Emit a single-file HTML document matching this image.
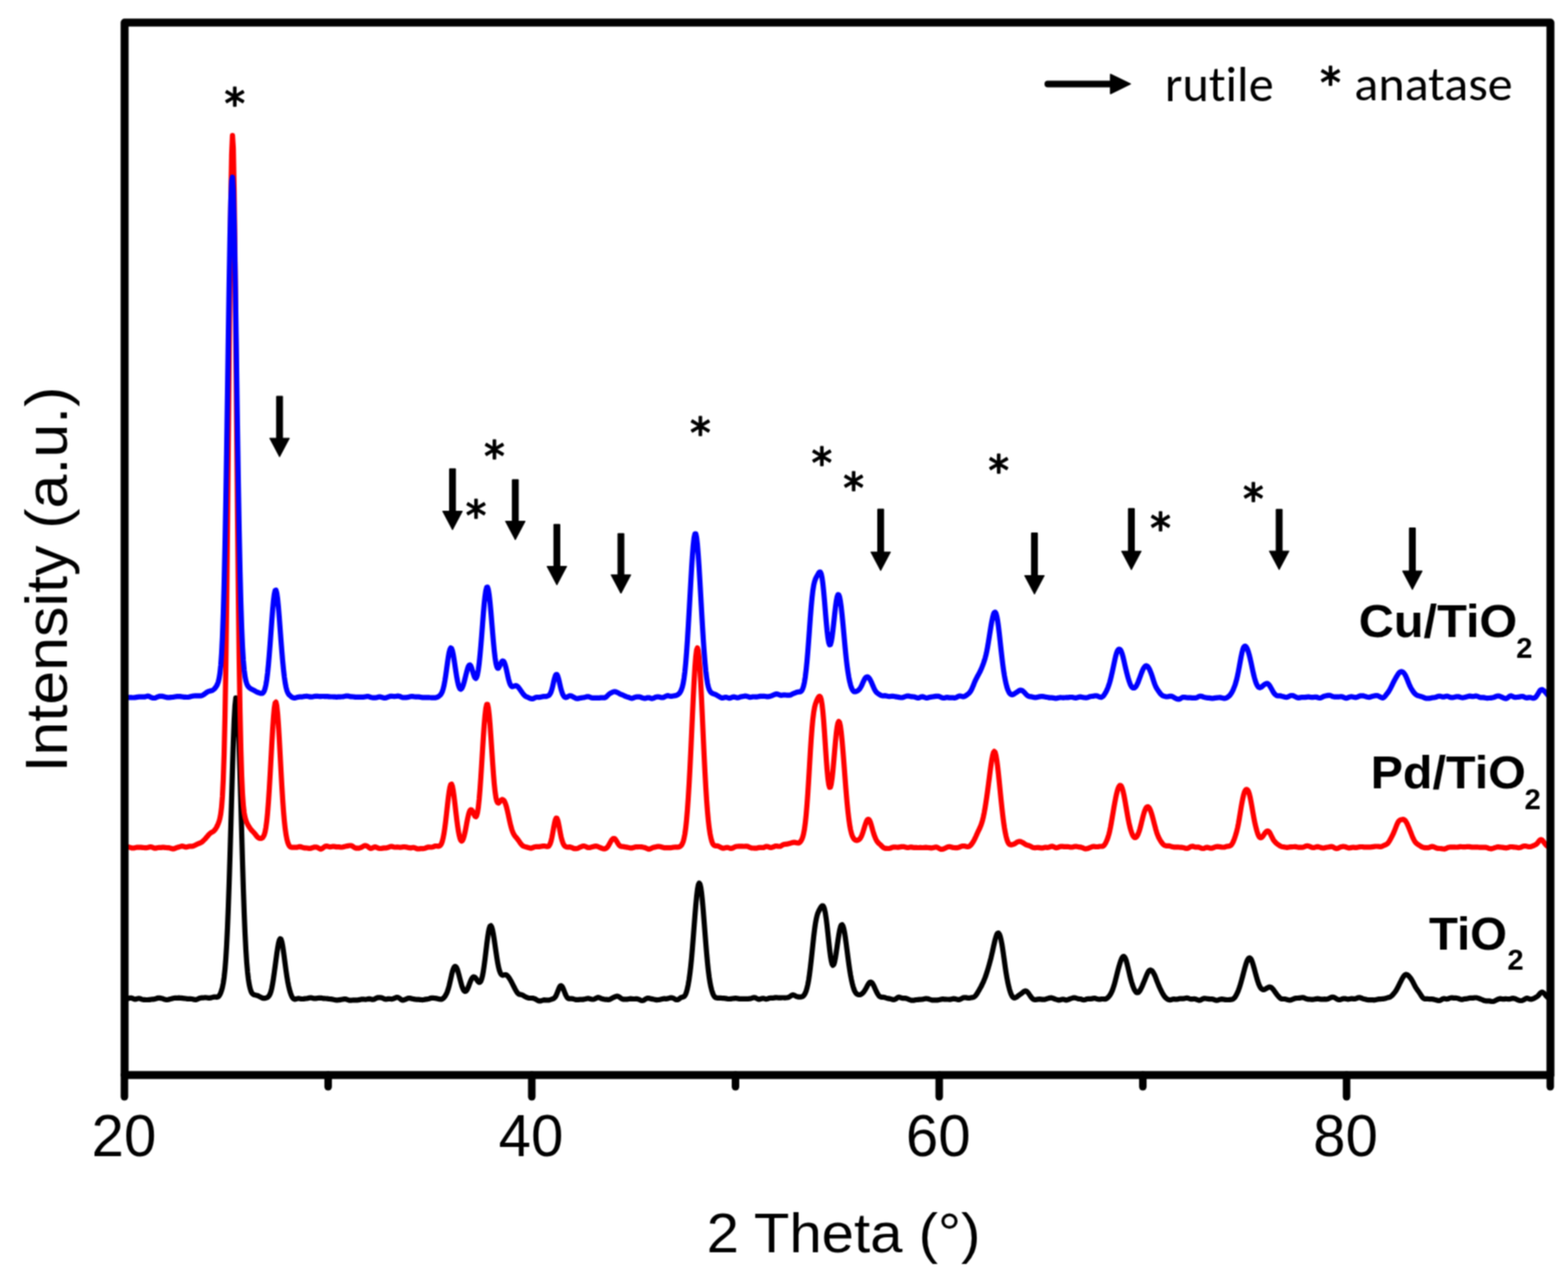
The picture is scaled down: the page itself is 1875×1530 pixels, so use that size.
<!DOCTYPE html>
<html><head><meta charset="utf-8"><title>XRD patterns</title>
<style>
html,body{margin:0;padding:0;background:#fff;}
svg{display:block;}
#w{width:1875px;height:1530px;}
.ar{font-family:"Liberation Sans",Arial,sans-serif;fill:#000;}
.b{font-weight:bold;}
.dv{font-family:"DejaVu Sans",sans-serif;fill:#000;stroke:#000;stroke-width:1.6px;stroke-linejoin:round;stroke-linecap:round;}
.cb{font-family:Carlito,"Liberation Sans",sans-serif;fill:#000;font-variant-ligatures:none;}
</style></head>
<body>
<div id="w"><svg width="1875" height="1530" viewBox="0 0 1875 1530">
<defs><filter id="soft" x="0" y="0" width="1875" height="1530" filterUnits="userSpaceOnUse" color-interpolation-filters="sRGB"><feConvolveMatrix order="3" kernelMatrix="1 2 1 2 4 2 1 2 1" divisor="16" edgeMode="duplicate"/></filter></defs>
<g filter="url(#soft)">
<rect width="1875" height="1530" fill="#fff"/>
<polyline points="152,1194.8 153,1194.5 154,1194.2 155,1193.9 156,1193.8 157,1193.8 158,1194.1 159,1194.5 160,1195.0 161,1195.3 162,1195.3 163,1195.1 164,1194.7 165,1194.5 166,1194.4 167,1194.5 168,1194.8 169,1195.2 170,1195.5 171,1195.7 172,1195.9 173,1195.9 174,1196.0 175,1196.0 176,1196.0 177,1196.0 178,1195.9 179,1195.8 180,1195.7 181,1195.5 182,1195.4 183,1195.3 184,1195.3 185,1195.1 186,1194.8 187,1194.5 188,1194.1 189,1193.9 190,1193.8 191,1193.9 192,1194.1 193,1194.3 194,1194.5 195,1194.8 196,1195.2 197,1195.5 198,1195.8 199,1196.0 200,1196.0 201,1195.8 202,1195.6 203,1195.3 204,1195.0 205,1194.8 206,1194.5 207,1194.2 208,1194.0 209,1193.9 210,1193.8 211,1193.8 212,1193.8 213,1193.8 214,1193.7 215,1193.8 216,1193.8 217,1193.9 218,1194.1 219,1194.2 220,1194.3 221,1194.4 222,1194.5 223,1194.7 224,1194.8 225,1194.9 226,1194.9 227,1194.9 228,1194.9 229,1195.0 230,1195.1 231,1195.4 232,1195.6 233,1195.9 234,1195.9 235,1195.7 236,1195.3 237,1194.8 238,1194.4 239,1194.0 240,1193.8 241,1193.7 242,1193.6 243,1193.6 244,1193.5 245,1193.4 246,1193.4 247,1193.5 248,1193.6 249,1193.8 250,1193.9 251,1193.9 252,1193.6 253,1193.4 254,1193.1 255,1192.8 256,1192.7 257,1192.6 258,1192.7 259,1192.8 260,1192.7 261,1192.3 262,1191.3 263,1189.7 264,1187.5 265,1184.6 266,1181.0 267,1176.0 268,1169.2 269,1159.9 270,1147.3 271,1131.0 272,1110.5 273,1085.8 274,1057.0 275,1024.7 276,989.8 277,954.0 278,919.3 279,888.0 280,862.2 281,844.0 282,834.9 283,835.6 284,846.3 285,866.0 286,893.0 287,925.3 288,960.6 289,996.5 290,1031.4 291,1063.5 292,1092.0 293,1116.2 294,1135.8 295,1151.1 296,1162.6 297,1171.2 298,1177.5 299,1182.1 300,1185.4 301,1187.6 302,1188.9 303,1189.7 304,1190.0 305,1190.3 306,1190.5 307,1190.7 308,1191.0 309,1191.4 310,1191.9 311,1192.4 312,1192.9 313,1193.4 314,1193.9 315,1194.1 316,1194.2 317,1194.1 318,1193.8 319,1193.5 320,1193.0 321,1192.2 322,1190.9 323,1188.9 324,1186.0 325,1181.9 326,1176.7 327,1170.5 328,1163.4 329,1156.0 330,1148.3 331,1140.9 332,1134.2 333,1128.6 334,1124.7 335,1122.9 336,1123.5 337,1126.4 338,1131.5 339,1138.1 340,1145.6 341,1153.4 342,1160.9 343,1167.8 344,1173.8 345,1178.9 346,1183.2 347,1186.8 348,1189.8 349,1192.1 350,1193.8 351,1194.8 352,1195.3 353,1195.3 354,1195.0 355,1194.7 356,1194.5 357,1194.4 358,1194.5 359,1194.7 360,1194.9 361,1195.0 362,1195.0 363,1194.9 364,1194.7 365,1194.6 366,1194.5 367,1194.4 368,1194.2 369,1193.9 370,1193.7 371,1193.5 372,1193.6 373,1193.8 374,1194.1 375,1194.3 376,1194.4 377,1194.4 378,1194.3 379,1194.2 380,1194.0 381,1193.9 382,1193.8 383,1193.8 384,1193.8 385,1194.0 386,1194.2 387,1194.4 388,1194.4 389,1194.5 390,1194.5 391,1194.6 392,1194.7 393,1194.9 394,1195.0 395,1195.1 396,1195.2 397,1195.3 398,1195.5 399,1195.8 400,1196.0 401,1196.2 402,1196.3 403,1196.3 404,1196.3 405,1196.2 406,1196.1 407,1195.9 408,1195.7 409,1195.5 410,1195.4 411,1195.2 412,1195.1 413,1195.1 414,1195.3 415,1195.7 416,1196.1 417,1196.4 418,1196.6 419,1196.6 420,1196.6 421,1196.5 422,1196.4 423,1196.4 424,1196.4 425,1196.4 426,1196.4 427,1196.3 428,1196.3 429,1196.1 430,1195.9 431,1195.7 432,1195.4 433,1195.3 434,1195.3 435,1195.4 436,1195.5 437,1195.6 438,1195.5 439,1195.3 440,1195.1 441,1194.9 442,1194.9 443,1195.1 444,1195.4 445,1195.6 446,1195.7 447,1195.5 448,1195.1 449,1194.5 450,1194.0 451,1193.6 452,1193.4 453,1193.3 454,1193.3 455,1193.4 456,1193.5 457,1193.8 458,1194.2 459,1194.7 460,1195.1 461,1195.3 462,1195.3 463,1195.1 464,1194.9 465,1194.8 466,1194.9 467,1195.0 468,1195.1 469,1195.1 470,1194.8 471,1194.5 472,1194.0 473,1193.6 474,1193.2 475,1193.1 476,1193.3 477,1193.8 478,1194.4 479,1195.2 480,1195.9 481,1196.3 482,1196.4 483,1196.2 484,1195.8 485,1195.4 486,1194.9 487,1194.4 488,1194.1 489,1194.0 490,1194.1 491,1194.3 492,1194.6 493,1194.8 494,1195.0 495,1195.2 496,1195.3 497,1195.5 498,1195.6 499,1195.7 500,1195.7 501,1195.7 502,1195.8 503,1195.9 504,1196.0 505,1196.1 506,1196.0 507,1195.9 508,1195.6 509,1195.4 510,1195.3 511,1195.2 512,1195.0 513,1194.8 514,1194.4 515,1194.0 516,1193.8 517,1193.8 518,1193.8 519,1194.0 520,1194.1 521,1194.2 522,1194.4 523,1194.6 524,1194.9 525,1195.1 526,1195.3 527,1195.4 528,1195.3 529,1194.9 530,1194.2 531,1193.2 532,1192.0 533,1190.4 534,1188.5 535,1186.1 536,1183.1 537,1179.5 538,1175.3 539,1170.8 540,1166.3 541,1162.3 542,1159.2 543,1157.0 544,1156.1 545,1156.3 546,1157.6 547,1160.0 548,1163.3 549,1167.0 550,1171.0 551,1174.8 552,1178.4 553,1181.4 554,1183.8 555,1185.3 556,1186.0 557,1185.8 558,1184.8 559,1183.1 560,1180.8 561,1178.1 562,1175.4 563,1172.9 564,1170.9 565,1169.5 566,1168.7 567,1168.6 568,1169.2 569,1170.3 570,1171.8 571,1173.3 572,1174.5 573,1175.2 574,1175.0 575,1173.6 576,1171.0 577,1167.1 578,1161.6 579,1154.9 580,1147.1 581,1138.7 582,1130.2 583,1122.3 584,1115.6 585,1110.7 586,1107.9 587,1107.3 588,1109.0 589,1112.6 590,1117.8 591,1124.1 592,1131.0 593,1138.0 594,1144.8 595,1150.9 596,1156.1 597,1160.2 598,1163.1 599,1165.1 600,1166.2 601,1166.6 602,1166.5 603,1166.3 604,1166.0 605,1166.1 606,1166.6 607,1167.5 608,1168.7 609,1170.1 610,1171.8 611,1173.5 612,1175.4 613,1177.4 614,1179.4 615,1181.3 616,1183.2 617,1185.0 618,1186.7 619,1188.0 620,1188.9 621,1189.4 622,1189.6 623,1189.8 624,1190.1 625,1190.6 626,1191.1 627,1191.7 628,1192.2 629,1192.7 630,1193.2 631,1193.6 632,1193.9 633,1194.0 634,1194.0 635,1194.0 636,1194.0 637,1194.1 638,1194.3 639,1194.6 640,1195.0 641,1195.6 642,1196.2 643,1196.7 644,1197.2 645,1197.4 646,1197.4 647,1197.2 648,1196.9 649,1196.6 650,1196.3 651,1196.2 652,1196.3 653,1196.4 654,1196.4 655,1196.5 656,1196.4 657,1196.2 658,1195.9 659,1195.6 660,1195.2 661,1194.9 662,1194.4 663,1193.7 664,1192.6 665,1190.9 666,1188.6 667,1185.9 668,1183.3 669,1181.0 670,1179.5 671,1179.1 672,1179.9 673,1181.6 674,1183.9 675,1186.5 676,1189.1 677,1191.3 678,1193.0 679,1194.0 680,1194.6 681,1194.7 682,1194.7 683,1194.6 684,1194.7 685,1194.8 686,1195.1 687,1195.4 688,1195.7 689,1195.9 690,1195.9 691,1195.9 692,1195.8 693,1195.7 694,1195.7 695,1195.6 696,1195.6 697,1195.6 698,1195.4 699,1195.2 700,1195.0 701,1194.7 702,1194.5 703,1194.4 704,1194.4 705,1194.7 706,1195.0 707,1195.3 708,1195.5 709,1195.5 710,1195.4 711,1195.1 712,1194.6 713,1194.0 714,1193.5 715,1193.2 716,1193.3 717,1193.6 718,1194.1 719,1194.5 720,1194.8 721,1195.1 722,1195.3 723,1195.5 724,1195.6 725,1195.6 726,1195.7 727,1195.8 728,1195.8 729,1195.6 730,1195.2 731,1194.6 732,1194.0 733,1193.5 734,1193.0 735,1192.6 736,1192.2 737,1191.8 738,1191.7 739,1191.9 740,1192.3 741,1193.0 742,1193.8 743,1194.5 744,1195.0 745,1195.3 746,1195.4 747,1195.4 748,1195.4 749,1195.4 750,1195.3 751,1195.2 752,1195.0 753,1194.8 754,1194.7 755,1194.8 756,1194.9 757,1195.0 758,1195.0 759,1195.0 760,1194.9 761,1194.8 762,1194.9 763,1195.2 764,1195.6 765,1196.1 766,1196.6 767,1196.9 768,1197.0 769,1196.8 770,1196.4 771,1195.7 772,1195.1 773,1194.6 774,1194.2 775,1194.1 776,1194.2 777,1194.4 778,1194.7 779,1194.9 780,1195.1 781,1195.3 782,1195.5 783,1195.7 784,1195.9 785,1196.1 786,1196.1 787,1196.0 788,1195.9 789,1195.7 790,1195.5 791,1195.2 792,1195.0 793,1194.8 794,1194.7 795,1194.7 796,1194.8 797,1194.8 798,1194.6 799,1194.4 800,1194.1 801,1193.8 802,1193.6 803,1193.6 804,1193.8 805,1194.1 806,1194.6 807,1195.2 808,1195.7 809,1196.0 810,1196.0 811,1195.6 812,1195.0 813,1194.2 814,1193.5 815,1193.1 816,1192.8 817,1192.6 818,1192.1 819,1191.0 820,1189.1 821,1186.3 822,1182.5 823,1177.6 824,1171.7 825,1164.4 826,1155.8 827,1145.7 828,1134.1 829,1121.5 830,1108.4 831,1095.4 832,1083.3 833,1072.7 834,1064.4 835,1058.8 836,1056.4 837,1057.5 838,1061.7 839,1068.9 840,1078.5 841,1090.0 842,1102.7 843,1115.7 844,1128.5 845,1140.6 846,1151.4 847,1160.8 848,1168.7 849,1175.2 850,1180.3 851,1184.3 852,1187.5 853,1190.0 854,1191.7 855,1192.9 856,1193.5 857,1193.7 858,1193.8 859,1193.8 860,1193.8 861,1193.8 862,1193.9 863,1194.0 864,1194.1 865,1194.2 866,1194.2 867,1194.3 868,1194.4 869,1194.6 870,1194.9 871,1195.0 872,1195.0 873,1194.9 874,1194.8 875,1194.7 876,1194.5 877,1194.4 878,1194.3 879,1194.2 880,1194.2 881,1194.3 882,1194.4 883,1194.7 884,1194.8 885,1194.9 886,1194.8 887,1194.8 888,1194.8 889,1194.8 890,1194.9 891,1194.9 892,1194.9 893,1194.9 894,1194.8 895,1194.8 896,1194.7 897,1194.6 898,1194.4 899,1194.1 900,1193.7 901,1193.4 902,1193.3 903,1193.5 904,1193.9 905,1194.4 906,1194.9 907,1195.3 908,1195.3 909,1195.2 910,1194.8 911,1194.5 912,1194.3 913,1194.3 914,1194.6 915,1194.9 916,1195.1 917,1195.1 918,1194.8 919,1194.4 920,1194.0 921,1193.9 922,1193.8 923,1193.9 924,1193.9 925,1193.8 926,1193.6 927,1193.4 928,1193.3 929,1193.4 930,1193.5 931,1193.7 932,1193.7 933,1193.7 934,1193.6 935,1193.5 936,1193.5 937,1193.5 938,1193.6 939,1193.6 940,1193.5 941,1193.5 942,1193.3 943,1192.9 944,1192.4 945,1191.8 946,1191.1 947,1190.5 948,1190.2 949,1190.3 950,1190.7 951,1191.2 952,1191.8 953,1192.2 954,1192.4 955,1192.6 956,1192.6 957,1192.6 958,1192.6 959,1192.3 960,1191.9 961,1191.0 962,1189.7 963,1187.8 964,1185.3 965,1181.9 966,1177.6 967,1172.2 968,1165.5 969,1157.7 970,1148.9 971,1139.5 972,1130.0 973,1120.7 974,1112.4 975,1105.3 976,1099.7 977,1095.4 978,1092.3 979,1090.0 980,1088.0 981,1086.2 982,1084.6 983,1083.6 984,1083.5 985,1084.8 986,1087.8 987,1092.6 988,1099.2 989,1107.4 990,1116.6 991,1126.2 992,1135.3 993,1143.2 994,1149.3 995,1153.2 996,1154.7 997,1153.8 998,1150.7 999,1145.7 1000,1139.3 1001,1132.3 1002,1125.2 1003,1118.6 1004,1113.0 1005,1108.9 1006,1106.6 1007,1106.2 1008,1107.7 1009,1111.1 1010,1116.1 1011,1122.5 1012,1129.8 1013,1137.6 1014,1145.5 1015,1153.0 1016,1159.9 1017,1166.0 1018,1171.3 1019,1175.9 1020,1179.8 1021,1183.0 1022,1185.5 1023,1187.3 1024,1188.5 1025,1189.3 1026,1189.8 1027,1190.0 1028,1190.0 1029,1189.7 1030,1189.2 1031,1188.5 1032,1187.6 1033,1186.4 1034,1184.9 1035,1183.3 1036,1181.5 1037,1179.6 1038,1177.8 1039,1176.2 1040,1175.2 1041,1174.8 1042,1175.1 1043,1176.0 1044,1177.6 1045,1179.5 1046,1181.7 1047,1184.0 1048,1186.1 1049,1188.1 1050,1189.8 1051,1191.2 1052,1192.1 1053,1192.6 1054,1192.8 1055,1192.9 1056,1192.9 1057,1193.0 1058,1193.2 1059,1193.6 1060,1193.9 1061,1194.2 1062,1194.4 1063,1194.6 1064,1194.7 1065,1195.0 1066,1195.2 1067,1195.6 1068,1195.8 1069,1195.8 1070,1195.6 1071,1195.1 1072,1194.4 1073,1193.6 1074,1193.1 1075,1192.9 1076,1193.1 1077,1193.4 1078,1193.8 1079,1194.1 1080,1194.1 1081,1194.1 1082,1194.1 1083,1194.2 1084,1194.5 1085,1194.8 1086,1195.2 1087,1195.7 1088,1196.1 1089,1196.4 1090,1196.6 1091,1196.7 1092,1196.7 1093,1196.6 1094,1196.3 1095,1196.1 1096,1196.0 1097,1195.9 1098,1195.8 1099,1195.7 1100,1195.6 1101,1195.6 1102,1195.5 1103,1195.4 1104,1195.2 1105,1195.0 1106,1194.8 1107,1194.6 1108,1194.5 1109,1194.7 1110,1194.9 1111,1195.3 1112,1195.6 1113,1195.9 1114,1196.2 1115,1196.4 1116,1196.4 1117,1196.4 1118,1196.4 1119,1196.4 1120,1196.4 1121,1196.3 1122,1196.2 1123,1196.0 1124,1195.8 1125,1195.5 1126,1195.3 1127,1195.2 1128,1195.2 1129,1195.3 1130,1195.4 1131,1195.4 1132,1195.5 1133,1195.5 1134,1195.5 1135,1195.6 1136,1195.6 1137,1195.4 1138,1195.2 1139,1194.9 1140,1194.7 1141,1194.7 1142,1194.9 1143,1195.1 1144,1195.4 1145,1195.7 1146,1195.8 1147,1195.8 1148,1195.5 1149,1195.0 1150,1194.4 1151,1193.9 1152,1193.5 1153,1193.3 1154,1193.3 1155,1193.4 1156,1193.6 1157,1193.8 1158,1193.9 1159,1193.9 1160,1193.7 1161,1193.5 1162,1193.3 1163,1193.2 1164,1192.9 1165,1192.4 1166,1191.6 1167,1190.5 1168,1189.1 1169,1187.5 1170,1185.8 1171,1184.1 1172,1182.3 1173,1180.5 1174,1178.5 1175,1176.4 1176,1174.3 1177,1171.9 1178,1169.4 1179,1166.6 1180,1163.6 1181,1160.4 1182,1157.0 1183,1153.5 1184,1149.8 1185,1145.9 1186,1141.6 1187,1137.2 1188,1132.6 1189,1128.2 1190,1124.0 1191,1120.5 1192,1117.8 1193,1116.3 1194,1116.2 1195,1117.4 1196,1120.1 1197,1124.0 1198,1129.1 1199,1135.2 1200,1142.1 1201,1149.3 1202,1156.5 1203,1163.2 1204,1169.2 1205,1174.5 1206,1179.1 1207,1183.1 1208,1186.4 1209,1189.1 1210,1191.2 1211,1192.7 1212,1193.5 1213,1193.8 1214,1193.6 1215,1193.1 1216,1192.5 1217,1191.7 1218,1190.9 1219,1190.2 1220,1189.4 1221,1188.8 1222,1188.0 1223,1187.3 1224,1186.4 1225,1185.7 1226,1185.4 1227,1185.5 1228,1186.1 1229,1187.1 1230,1188.4 1231,1189.9 1232,1191.4 1233,1192.8 1234,1194.0 1235,1194.9 1236,1195.5 1237,1195.8 1238,1195.9 1239,1195.8 1240,1195.6 1241,1195.4 1242,1195.3 1243,1195.2 1244,1195.3 1245,1195.4 1246,1195.6 1247,1195.7 1248,1195.7 1249,1195.6 1250,1195.4 1251,1195.1 1252,1194.7 1253,1194.4 1254,1194.1 1255,1193.9 1256,1193.7 1257,1193.7 1258,1193.8 1259,1194.1 1260,1194.5 1261,1194.9 1262,1195.3 1263,1195.6 1264,1195.9 1265,1196.2 1266,1196.3 1267,1196.3 1268,1196.1 1269,1195.8 1270,1195.5 1271,1195.4 1272,1195.5 1273,1195.8 1274,1196.2 1275,1196.3 1276,1196.2 1277,1195.9 1278,1195.5 1279,1195.1 1280,1194.7 1281,1194.4 1282,1194.1 1283,1193.8 1284,1193.6 1285,1193.6 1286,1193.8 1287,1194.1 1288,1194.4 1289,1194.7 1290,1194.9 1291,1195.0 1292,1195.1 1293,1195.3 1294,1195.7 1295,1196.0 1296,1196.1 1297,1196.0 1298,1195.7 1299,1195.3 1300,1195.0 1301,1194.9 1302,1194.9 1303,1194.9 1304,1194.9 1305,1194.8 1306,1194.6 1307,1194.4 1308,1194.2 1309,1194.2 1310,1194.3 1311,1194.7 1312,1195.0 1313,1195.3 1314,1195.5 1315,1195.4 1316,1195.3 1317,1195.1 1318,1195.0 1319,1195.0 1320,1195.1 1321,1195.2 1322,1195.1 1323,1194.7 1324,1194.0 1325,1193.1 1326,1192.0 1327,1190.8 1328,1189.2 1329,1187.3 1330,1185.1 1331,1182.4 1332,1179.3 1333,1175.8 1334,1172.0 1335,1168.0 1336,1164.0 1337,1160.1 1338,1156.4 1339,1153.0 1340,1149.9 1341,1147.3 1342,1145.4 1343,1144.3 1344,1144.1 1345,1145.1 1346,1147.1 1347,1150.1 1348,1153.9 1349,1158.1 1350,1162.4 1351,1166.7 1352,1170.7 1353,1174.4 1354,1177.6 1355,1180.4 1356,1182.8 1357,1184.8 1358,1186.2 1359,1187.2 1360,1187.5 1361,1187.3 1362,1186.5 1363,1185.1 1364,1183.4 1365,1181.4 1366,1179.2 1367,1176.8 1368,1174.4 1369,1172.0 1370,1169.4 1371,1166.9 1372,1164.6 1373,1162.6 1374,1161.2 1375,1160.5 1376,1160.4 1377,1160.9 1378,1161.8 1379,1163.2 1380,1165.1 1381,1167.2 1382,1169.7 1383,1172.3 1384,1174.8 1385,1177.3 1386,1179.7 1387,1182.0 1388,1184.1 1389,1186.1 1390,1188.0 1391,1189.8 1392,1191.3 1393,1192.6 1394,1193.7 1395,1194.5 1396,1195.2 1397,1195.7 1398,1196.0 1399,1196.2 1400,1196.0 1401,1195.7 1402,1195.4 1403,1195.2 1404,1195.2 1405,1195.3 1406,1195.4 1407,1195.4 1408,1195.3 1409,1195.1 1410,1194.8 1411,1194.6 1412,1194.5 1413,1194.6 1414,1194.6 1415,1194.6 1416,1194.5 1417,1194.2 1418,1194.0 1419,1193.9 1420,1193.9 1421,1194.2 1422,1194.6 1423,1194.9 1424,1195.2 1425,1195.2 1426,1195.1 1427,1195.0 1428,1194.9 1429,1195.0 1430,1195.3 1431,1195.7 1432,1196.1 1433,1196.4 1434,1196.6 1435,1196.5 1436,1196.1 1437,1195.5 1438,1195.0 1439,1194.6 1440,1194.4 1441,1194.4 1442,1194.5 1443,1194.7 1444,1194.8 1445,1194.9 1446,1195.1 1447,1195.1 1448,1195.1 1449,1195.2 1450,1195.2 1451,1195.5 1452,1195.9 1453,1196.3 1454,1196.6 1455,1196.7 1456,1196.5 1457,1196.2 1458,1195.8 1459,1195.5 1460,1195.3 1461,1195.2 1462,1195.3 1463,1195.4 1464,1195.7 1465,1195.8 1466,1195.9 1467,1196.0 1468,1196.0 1469,1196.0 1470,1195.9 1471,1195.8 1472,1195.7 1473,1195.6 1474,1195.3 1475,1194.7 1476,1193.8 1477,1192.5 1478,1190.9 1479,1189.0 1480,1186.8 1481,1184.3 1482,1181.5 1483,1178.4 1484,1175.0 1485,1171.3 1486,1167.6 1487,1163.8 1488,1160.0 1489,1156.3 1490,1153.0 1491,1150.1 1492,1147.9 1493,1146.4 1494,1145.8 1495,1146.1 1496,1147.4 1497,1149.6 1498,1152.5 1499,1155.8 1500,1159.4 1501,1163.2 1502,1166.9 1503,1170.5 1504,1173.8 1505,1176.7 1506,1179.1 1507,1181.0 1508,1182.4 1509,1183.3 1510,1183.8 1511,1183.9 1512,1183.7 1513,1183.2 1514,1182.6 1515,1182.0 1516,1181.4 1517,1180.9 1518,1180.7 1519,1180.8 1520,1181.2 1521,1182.0 1522,1183.1 1523,1184.3 1524,1185.7 1525,1187.1 1526,1188.5 1527,1189.8 1528,1191.1 1529,1192.3 1530,1193.3 1531,1194.2 1532,1194.7 1533,1195.0 1534,1195.0 1535,1195.0 1536,1195.0 1537,1195.1 1538,1195.4 1539,1195.7 1540,1196.0 1541,1196.2 1542,1196.4 1543,1196.3 1544,1196.1 1545,1195.7 1546,1195.3 1547,1194.9 1548,1194.5 1549,1194.2 1550,1194.1 1551,1194.0 1552,1194.0 1553,1193.9 1554,1193.8 1555,1193.7 1556,1193.5 1557,1193.4 1558,1193.3 1559,1193.5 1560,1193.9 1561,1194.4 1562,1194.8 1563,1195.1 1564,1195.3 1565,1195.4 1566,1195.4 1567,1195.5 1568,1195.6 1569,1195.6 1570,1195.6 1571,1195.5 1572,1195.3 1573,1195.1 1574,1194.9 1575,1194.7 1576,1194.7 1577,1194.9 1578,1195.1 1579,1195.3 1580,1195.4 1581,1195.4 1582,1195.3 1583,1195.3 1584,1195.2 1585,1195.3 1586,1195.3 1587,1195.2 1588,1195.0 1589,1194.5 1590,1194.0 1591,1193.5 1592,1193.1 1593,1192.9 1594,1192.8 1595,1193.0 1596,1193.5 1597,1194.1 1598,1194.7 1599,1195.3 1600,1195.7 1601,1195.9 1602,1195.9 1603,1195.7 1604,1195.4 1605,1195.0 1606,1194.7 1607,1194.6 1608,1194.6 1609,1194.7 1610,1195.0 1611,1195.2 1612,1195.3 1613,1195.2 1614,1195.0 1615,1194.8 1616,1194.7 1617,1194.7 1618,1194.8 1619,1194.9 1620,1194.9 1621,1194.7 1622,1194.3 1623,1193.9 1624,1193.5 1625,1193.3 1626,1193.3 1627,1193.6 1628,1194.0 1629,1194.4 1630,1194.7 1631,1195.0 1632,1195.2 1633,1195.4 1634,1195.7 1635,1196.0 1636,1196.1 1637,1196.2 1638,1196.2 1639,1196.2 1640,1196.1 1641,1196.2 1642,1196.2 1643,1196.3 1644,1196.2 1645,1196.0 1646,1195.7 1647,1195.5 1648,1195.3 1649,1195.2 1650,1195.2 1651,1195.1 1652,1195.0 1653,1194.9 1654,1194.8 1655,1194.7 1656,1194.5 1657,1194.2 1658,1193.9 1659,1193.6 1660,1193.3 1661,1193.1 1662,1192.8 1663,1192.2 1664,1191.4 1665,1190.5 1666,1189.3 1667,1188.2 1668,1186.9 1669,1185.5 1670,1183.9 1671,1182.1 1672,1180.1 1673,1178.1 1674,1176.0 1675,1174.1 1676,1172.1 1677,1170.3 1678,1168.6 1679,1167.2 1680,1166.2 1681,1165.7 1682,1165.8 1683,1166.2 1684,1167.0 1685,1168.0 1686,1169.2 1687,1170.5 1688,1172.0 1689,1173.7 1690,1175.7 1691,1177.7 1692,1179.6 1693,1181.4 1694,1182.9 1695,1184.3 1696,1185.6 1697,1187.1 1698,1188.6 1699,1190.2 1700,1191.7 1701,1193.1 1702,1194.1 1703,1194.7 1704,1194.9 1705,1194.9 1706,1194.9 1707,1194.9 1708,1195.0 1709,1195.1 1710,1195.2 1711,1195.1 1712,1195.1 1713,1195.2 1714,1195.4 1715,1195.6 1716,1195.9 1717,1196.2 1718,1196.4 1719,1196.7 1720,1196.9 1721,1197.0 1722,1196.8 1723,1196.3 1724,1195.6 1725,1195.0 1726,1194.7 1727,1194.6 1728,1194.8 1729,1195.0 1730,1195.1 1731,1195.0 1732,1194.7 1733,1194.2 1734,1193.9 1735,1193.6 1736,1193.6 1737,1193.7 1738,1193.8 1739,1193.8 1740,1193.9 1741,1193.9 1742,1194.0 1743,1194.2 1744,1194.5 1745,1194.9 1746,1195.3 1747,1195.6 1748,1195.7 1749,1195.6 1750,1195.3 1751,1195.0 1752,1194.8 1753,1194.8 1754,1194.7 1755,1194.5 1756,1194.2 1757,1194.0 1758,1193.8 1759,1193.8 1760,1193.9 1761,1193.9 1762,1193.8 1763,1193.6 1764,1193.5 1765,1193.5 1766,1193.6 1767,1193.9 1768,1194.2 1769,1194.6 1770,1195.0 1771,1195.4 1772,1195.7 1773,1196.2 1774,1196.6 1775,1197.0 1776,1197.2 1777,1197.3 1778,1197.3 1779,1197.3 1780,1197.3 1781,1197.4 1782,1197.6 1783,1197.9 1784,1198.0 1785,1198.0 1786,1197.9 1787,1197.6 1788,1197.1 1789,1196.6 1790,1196.1 1791,1195.5 1792,1195.1 1793,1194.8 1794,1194.7 1795,1194.8 1796,1195.0 1797,1195.2 1798,1195.2 1799,1195.1 1800,1194.9 1801,1194.9 1802,1195.0 1803,1195.1 1804,1195.2 1805,1195.2 1806,1194.9 1807,1194.6 1808,1194.4 1809,1194.2 1810,1194.3 1811,1194.5 1812,1194.8 1813,1195.2 1814,1195.7 1815,1196.2 1816,1196.6 1817,1196.9 1818,1197.0 1819,1197.0 1820,1196.9 1821,1196.6 1822,1196.1 1823,1195.4 1824,1194.8 1825,1194.3 1826,1194.1 1827,1194.3 1828,1194.7 1829,1195.1 1830,1195.3 1831,1195.3 1832,1195.2 1833,1194.8 1834,1194.4 1835,1193.9 1836,1193.3 1837,1192.8 1838,1192.2 1839,1191.4 1840,1190.3 1841,1189.0 1842,1187.9 1843,1187.1 1844,1186.8 1845,1187.1 1846,1187.9 1847,1188.9 1848,1190.2 1849,1191.4 1850,1192.5 1851,1193.4" fill="none" stroke="#000000" stroke-width="6.2" stroke-linejoin="round" stroke-linecap="round"/>
<polyline points="152,1013.3 153,1013.3 154,1013.3 155,1013.6 156,1013.9 157,1014.2 158,1014.4 159,1014.5 160,1014.4 161,1014.2 162,1014.0 163,1013.8 164,1013.6 165,1013.6 166,1013.6 167,1013.6 168,1013.7 169,1013.7 170,1013.8 171,1013.9 172,1014.0 173,1014.1 174,1014.2 175,1014.2 176,1014.0 177,1013.8 178,1013.5 179,1013.2 180,1013.0 181,1013.2 182,1013.5 183,1014.0 184,1014.4 185,1014.6 186,1014.6 187,1014.4 188,1014.2 189,1014.0 190,1013.9 191,1013.8 192,1013.8 193,1013.8 194,1013.7 195,1013.7 196,1013.7 197,1013.8 198,1013.9 199,1014.0 200,1014.1 201,1014.1 202,1014.2 203,1014.4 204,1014.7 205,1015.0 206,1015.3 207,1015.4 208,1015.3 209,1015.0 210,1014.5 211,1014.1 212,1013.8 213,1013.5 214,1013.2 215,1012.9 216,1012.6 217,1012.3 218,1012.2 219,1012.4 220,1012.7 221,1013.1 222,1013.3 223,1013.3 224,1013.1 225,1012.8 226,1012.5 227,1012.4 228,1012.4 229,1012.4 230,1012.3 231,1012.1 232,1011.7 233,1011.2 234,1010.7 235,1010.2 236,1009.7 237,1009.3 238,1008.9 239,1008.5 240,1008.1 241,1007.6 242,1006.8 243,1005.9 244,1004.9 245,1003.9 246,1002.8 247,1001.6 248,1000.4 249,999.2 250,998.1 251,997.1 252,996.3 253,995.7 254,995.2 255,994.6 256,993.8 257,992.6 258,991.2 259,989.5 260,987.5 261,985.2 262,982.5 263,978.8 264,973.4 265,965.2 266,952.4 267,932.3 268,902.3 269,859.0 270,800.2 271,724.6 272,633.7 273,531.4 274,425.3 275,324.8 276,241.1 277,184.4 278,162.0 279,177.2 280,228.0 281,307.6 282,406.1 283,512.3 284,616.1 285,709.6 286,788.2 287,850.0 288,896.0 289,928.3 290,949.8 291,963.6 292,972.2 293,977.7 294,981.2 295,983.8 296,985.8 297,987.7 298,989.3 299,990.8 300,992.2 301,993.3 302,994.4 303,995.4 304,996.5 305,997.7 306,999.0 307,1000.3 308,1001.4 309,1002.3 310,1002.8 311,1003.0 312,1003.0 313,1002.6 314,1002.0 315,1000.7 316,998.6 317,995.1 318,989.7 319,982.2 320,972.0 321,959.3 322,944.2 323,927.1 324,908.9 325,890.5 326,873.2 327,858.4 328,847.2 329,840.9 330,839.9 331,844.5 332,854.0 333,867.7 334,884.5 335,903.0 336,921.9 337,940.0 338,956.3 339,970.3 340,981.8 341,991.0 342,998.1 343,1003.5 344,1007.4 345,1010.1 346,1011.9 347,1013.0 348,1013.5 349,1013.6 350,1013.6 351,1013.5 352,1013.6 353,1013.6 354,1013.7 355,1013.6 356,1013.4 357,1013.1 358,1012.9 359,1012.9 360,1013.1 361,1013.5 362,1013.8 363,1014.1 364,1014.3 365,1014.4 366,1014.4 367,1014.5 368,1014.6 369,1014.8 370,1014.9 371,1014.8 372,1014.7 373,1014.3 374,1013.9 375,1013.6 376,1013.4 377,1013.3 378,1013.3 379,1013.5 380,1014.0 381,1014.6 382,1015.2 383,1015.6 384,1015.6 385,1015.2 386,1014.5 387,1013.7 388,1013.0 389,1012.4 390,1012.2 391,1012.2 392,1012.5 393,1012.8 394,1013.1 395,1013.1 396,1013.0 397,1012.8 398,1012.6 399,1012.6 400,1012.7 401,1012.9 402,1013.1 403,1013.1 404,1013.1 405,1013.1 406,1013.2 407,1013.4 408,1013.5 409,1013.5 410,1013.3 411,1013.0 412,1012.7 413,1012.5 414,1012.3 415,1012.1 416,1011.9 417,1011.7 418,1011.5 419,1011.5 420,1011.6 421,1012.0 422,1012.6 423,1013.3 424,1013.9 425,1014.4 426,1014.7 427,1014.7 428,1014.7 429,1014.6 430,1014.4 431,1014.1 432,1013.7 433,1013.2 434,1012.6 435,1012.1 436,1011.7 437,1011.6 438,1011.8 439,1012.2 440,1012.9 441,1013.7 442,1014.4 443,1014.8 444,1014.9 445,1014.6 446,1014.1 447,1013.5 448,1013.2 449,1013.2 450,1013.5 451,1014.0 452,1014.5 453,1014.8 454,1015.0 455,1015.0 456,1014.9 457,1014.7 458,1014.6 459,1014.4 460,1014.3 461,1014.3 462,1014.3 463,1014.1 464,1013.8 465,1013.4 466,1012.9 467,1012.6 468,1012.6 469,1012.7 470,1013.0 471,1013.3 472,1013.5 473,1013.5 474,1013.4 475,1013.4 476,1013.4 477,1013.5 478,1013.6 479,1013.6 480,1013.5 481,1013.3 482,1013.2 483,1013.1 484,1013.1 485,1013.3 486,1013.4 487,1013.6 488,1013.9 489,1014.1 490,1014.2 491,1014.3 492,1014.2 493,1014.0 494,1013.8 495,1013.9 496,1014.2 497,1014.6 498,1015.0 499,1015.4 500,1015.5 501,1015.4 502,1015.3 503,1015.1 504,1015.0 505,1015.1 506,1015.1 507,1015.0 508,1014.8 509,1014.4 510,1014.0 511,1013.6 512,1013.4 513,1013.4 514,1013.4 515,1013.5 516,1013.5 517,1013.3 518,1013.0 519,1012.6 520,1012.2 521,1012.1 522,1012.1 523,1012.2 524,1012.3 525,1012.2 526,1011.7 527,1010.7 528,1008.9 529,1006.1 530,1002.0 531,996.6 532,989.8 533,981.8 534,973.0 535,963.9 536,955.2 537,947.6 538,941.8 539,938.5 540,938.0 541,940.6 542,945.8 543,953.1 544,961.5 545,970.3 546,978.9 547,986.6 548,993.4 549,998.8 550,1002.8 551,1005.2 552,1006.1 553,1005.4 554,1003.4 555,1000.1 556,995.8 557,990.8 558,985.4 559,980.2 560,975.6 561,971.9 562,969.5 563,968.6 564,969.0 565,970.4 566,972.6 567,974.8 568,976.6 569,977.1 570,975.8 571,972.0 572,965.5 573,956.0 574,943.9 575,929.6 576,913.8 577,897.5 578,881.7 579,867.4 580,855.6 581,847.1 582,842.6 583,842.5 584,846.9 585,855.3 586,867.1 587,881.1 588,896.2 589,911.2 590,925.1 591,937.2 592,946.8 593,953.8 594,958.2 595,960.2 596,960.6 597,959.9 598,958.6 599,957.4 600,956.6 601,956.4 602,956.9 603,958.2 604,960.3 605,963.1 606,966.7 607,970.9 608,975.4 609,980.1 610,984.6 611,988.7 612,992.2 613,995.0 614,997.2 615,999.0 616,1000.4 617,1001.6 618,1002.8 619,1004.0 620,1005.3 621,1006.7 622,1008.2 623,1009.6 624,1010.8 625,1011.7 626,1012.2 627,1012.6 628,1012.9 629,1013.2 630,1013.4 631,1013.7 632,1014.0 633,1014.3 634,1014.6 635,1014.6 636,1014.4 637,1014.0 638,1013.6 639,1013.2 640,1013.0 641,1012.9 642,1012.9 643,1012.9 644,1012.9 645,1012.8 646,1012.7 647,1012.5 648,1012.3 649,1012.2 650,1012.1 651,1012.1 652,1012.3 653,1012.5 654,1012.7 655,1012.7 656,1012.3 657,1011.2 658,1009.2 659,1006.0 660,1001.6 661,996.3 662,990.6 663,985.2 664,981.0 665,978.7 666,978.8 667,981.3 668,985.6 669,990.9 670,996.3 671,1001.2 672,1005.1 673,1008.1 674,1010.2 675,1011.7 676,1012.6 677,1013.1 678,1013.3 679,1013.3 680,1013.3 681,1013.2 682,1013.3 683,1013.6 684,1014.0 685,1014.5 686,1014.9 687,1015.1 688,1015.2 689,1015.2 690,1015.0 691,1014.7 692,1014.3 693,1013.8 694,1013.3 695,1012.9 696,1012.4 697,1012.2 698,1012.1 699,1012.3 700,1012.6 701,1013.1 702,1013.5 703,1013.9 704,1014.0 705,1013.9 706,1013.7 707,1013.4 708,1013.1 709,1012.9 710,1012.6 711,1012.4 712,1012.2 713,1012.2 714,1012.4 715,1012.7 716,1013.2 717,1013.7 718,1014.1 719,1014.5 720,1014.9 721,1015.2 722,1015.4 723,1015.4 724,1015.2 725,1014.6 726,1013.7 727,1012.5 728,1010.9 729,1009.1 730,1007.2 731,1005.5 732,1004.2 733,1003.3 734,1003.0 735,1003.3 736,1004.3 737,1005.7 738,1007.4 739,1009.1 740,1010.6 741,1011.7 742,1012.3 743,1012.6 744,1012.7 745,1012.7 746,1012.9 747,1013.1 748,1013.3 749,1013.4 750,1013.6 751,1013.8 752,1014.0 753,1014.2 754,1014.4 755,1014.4 756,1014.3 757,1014.0 758,1013.7 759,1013.4 760,1013.2 761,1013.1 762,1013.1 763,1013.1 764,1013.0 765,1013.0 766,1013.1 767,1013.1 768,1013.3 769,1013.5 770,1013.7 771,1013.9 772,1014.3 773,1014.7 774,1015.2 775,1015.6 776,1015.8 777,1015.6 778,1015.2 779,1014.7 780,1014.2 781,1013.8 782,1013.6 783,1013.4 784,1013.2 785,1012.9 786,1012.7 787,1012.6 788,1012.5 789,1012.7 790,1012.9 791,1013.2 792,1013.5 793,1013.8 794,1014.1 795,1014.2 796,1014.2 797,1014.2 798,1014.2 799,1014.2 800,1014.2 801,1014.2 802,1014.1 803,1014.0 804,1013.8 805,1013.6 806,1013.5 807,1013.4 808,1013.4 809,1013.4 810,1013.4 811,1013.3 812,1013.1 813,1012.7 814,1012.0 815,1010.9 816,1009.1 817,1006.6 818,1002.8 819,997.5 820,990.3 821,980.9 822,969.1 823,954.9 824,938.4 825,919.8 826,899.5 827,878.0 828,856.1 829,834.8 830,815.1 831,798.2 832,785.3 833,777.4 834,775.0 835,778.4 836,787.2 837,800.8 838,818.2 839,838.4 840,860.1 841,882.3 842,903.8 843,923.9 844,941.9 845,957.5 846,970.6 847,981.3 848,990.0 849,996.8 850,1002.0 851,1005.9 852,1008.7 853,1010.4 854,1011.4 855,1011.7 856,1011.8 857,1011.8 858,1011.9 859,1012.2 860,1012.7 861,1013.2 862,1013.8 863,1014.3 864,1014.6 865,1014.7 866,1014.5 867,1014.2 868,1014.0 869,1013.8 870,1013.8 871,1014.1 872,1014.4 873,1014.7 874,1015.0 875,1014.9 876,1014.6 877,1014.0 878,1013.5 879,1013.0 880,1012.7 881,1012.5 882,1012.5 883,1012.4 884,1012.4 885,1012.3 886,1012.3 887,1012.4 888,1012.4 889,1012.5 890,1012.5 891,1012.4 892,1012.3 893,1012.3 894,1012.5 895,1012.9 896,1013.4 897,1013.8 898,1014.2 899,1014.4 900,1014.5 901,1014.5 902,1014.6 903,1014.7 904,1014.7 905,1014.6 906,1014.3 907,1014.1 908,1013.8 909,1013.8 910,1013.8 911,1013.9 912,1014.0 913,1013.9 914,1013.5 915,1013.0 916,1012.6 917,1012.5 918,1012.7 919,1013.1 920,1013.5 921,1013.8 922,1013.8 923,1013.7 924,1013.4 925,1013.0 926,1012.6 927,1012.2 928,1012.1 929,1012.2 930,1012.3 931,1012.5 932,1012.5 933,1012.4 934,1011.9 935,1011.3 936,1010.7 937,1010.3 938,1010.0 939,1009.9 940,1009.8 941,1009.7 942,1009.6 943,1009.3 944,1009.0 945,1008.7 946,1008.4 947,1008.1 948,1007.9 949,1007.7 950,1007.7 951,1007.8 952,1008.1 953,1008.3 954,1008.5 955,1008.4 956,1007.9 957,1007.0 958,1005.7 959,1003.7 960,1001.0 961,997.0 962,991.6 963,984.2 964,974.7 965,962.8 966,948.7 967,932.8 968,916.1 969,899.5 970,884.2 971,870.9 972,860.3 973,852.3 974,846.6 975,842.6 976,839.7 977,837.3 978,835.2 979,833.6 980,832.9 981,833.8 982,836.8 983,842.7 984,851.5 985,863.2 986,877.2 987,892.3 988,907.1 989,920.4 990,931.0 991,938.3 992,941.8 993,941.6 994,937.9 995,931.1 996,921.8 997,910.8 998,899.1 999,887.7 1000,877.7 1001,869.9 1002,864.9 1003,863.0 1004,864.4 1005,869.0 1006,876.6 1007,886.5 1008,898.3 1009,911.1 1010,924.3 1011,937.2 1012,949.6 1013,960.9 1014,971.0 1015,979.5 1016,986.6 1017,992.1 1018,996.4 1019,999.5 1020,1001.7 1021,1003.3 1022,1004.4 1023,1005.0 1024,1005.3 1025,1005.3 1026,1005.0 1027,1004.5 1028,1003.6 1029,1002.3 1030,1000.5 1031,998.1 1032,995.2 1033,991.9 1034,988.6 1035,985.5 1036,982.8 1037,980.9 1038,980.0 1039,980.2 1040,981.7 1041,984.2 1042,987.4 1043,991.0 1044,994.6 1045,997.9 1046,1000.7 1047,1003.2 1048,1005.2 1049,1006.8 1050,1008.0 1051,1009.0 1052,1009.9 1053,1010.7 1054,1011.7 1055,1012.7 1056,1013.6 1057,1014.3 1058,1014.7 1059,1014.9 1060,1014.9 1061,1015.0 1062,1015.0 1063,1015.0 1064,1014.8 1065,1014.5 1066,1014.1 1067,1013.7 1068,1013.4 1069,1013.3 1070,1013.3 1071,1013.4 1072,1013.5 1073,1013.6 1074,1013.6 1075,1013.4 1076,1013.3 1077,1013.1 1078,1012.9 1079,1012.8 1080,1012.8 1081,1012.9 1082,1013.2 1083,1013.5 1084,1013.8 1085,1014.0 1086,1013.9 1087,1013.7 1088,1013.5 1089,1013.3 1090,1013.4 1091,1013.6 1092,1013.8 1093,1013.8 1094,1013.8 1095,1013.9 1096,1013.9 1097,1014.0 1098,1014.0 1099,1014.0 1100,1013.9 1101,1013.9 1102,1014.0 1103,1014.0 1104,1014.0 1105,1013.9 1106,1013.8 1107,1013.7 1108,1013.8 1109,1013.9 1110,1014.0 1111,1014.1 1112,1014.2 1113,1014.3 1114,1014.3 1115,1014.2 1116,1014.0 1117,1013.7 1118,1013.5 1119,1013.3 1120,1013.4 1121,1013.8 1122,1014.3 1123,1014.9 1124,1015.4 1125,1015.8 1126,1015.9 1127,1015.8 1128,1015.6 1129,1015.2 1130,1014.7 1131,1014.2 1132,1013.7 1133,1013.3 1134,1013.0 1135,1012.9 1136,1012.9 1137,1013.2 1138,1013.4 1139,1013.7 1140,1013.9 1141,1014.0 1142,1014.1 1143,1014.1 1144,1014.2 1145,1014.1 1146,1013.8 1147,1013.5 1148,1013.1 1149,1012.7 1150,1012.3 1151,1012.1 1152,1012.0 1153,1012.1 1154,1012.3 1155,1012.6 1156,1012.8 1157,1013.0 1158,1012.8 1159,1012.5 1160,1011.8 1161,1010.8 1162,1009.5 1163,1008.1 1164,1006.5 1165,1004.7 1166,1002.6 1167,1000.5 1168,998.2 1169,996.0 1170,993.9 1171,991.8 1172,989.6 1173,987.2 1174,984.3 1175,980.9 1176,976.7 1177,971.8 1178,966.1 1179,959.8 1180,953.0 1181,945.8 1182,938.2 1183,930.5 1184,922.7 1185,915.4 1186,908.8 1187,903.6 1188,900.2 1189,898.9 1190,900.1 1191,903.8 1192,909.7 1193,917.4 1194,926.4 1195,936.1 1196,946.2 1197,956.2 1198,965.8 1199,974.7 1200,982.6 1201,989.5 1202,995.4 1203,1000.2 1204,1004.0 1205,1006.9 1206,1008.9 1207,1010.0 1208,1010.5 1209,1010.6 1210,1010.4 1211,1010.2 1212,1009.9 1213,1009.5 1214,1009.0 1215,1008.3 1216,1007.6 1217,1007.1 1218,1006.8 1219,1006.6 1220,1006.7 1221,1006.9 1222,1007.4 1223,1007.9 1224,1008.6 1225,1009.3 1226,1010.0 1227,1010.5 1228,1010.9 1229,1011.2 1230,1011.4 1231,1011.8 1232,1012.2 1233,1012.7 1234,1013.3 1235,1013.7 1236,1014.0 1237,1014.1 1238,1014.1 1239,1014.0 1240,1013.9 1241,1013.9 1242,1013.9 1243,1014.1 1244,1014.2 1245,1014.4 1246,1014.4 1247,1014.3 1248,1014.1 1249,1013.8 1250,1013.6 1251,1013.7 1252,1013.8 1253,1013.8 1254,1013.6 1255,1013.3 1256,1012.9 1257,1012.5 1258,1012.4 1259,1012.6 1260,1013.0 1261,1013.5 1262,1013.9 1263,1014.1 1264,1014.1 1265,1013.8 1266,1013.4 1267,1013.0 1268,1012.7 1269,1012.6 1270,1012.6 1271,1012.7 1272,1012.8 1273,1012.9 1274,1012.9 1275,1012.9 1276,1012.9 1277,1012.9 1278,1013.0 1279,1013.2 1280,1013.4 1281,1013.5 1282,1013.4 1283,1013.2 1284,1012.9 1285,1012.7 1286,1012.6 1287,1012.6 1288,1012.8 1289,1013.0 1290,1013.2 1291,1013.3 1292,1013.4 1293,1013.6 1294,1013.9 1295,1014.3 1296,1014.8 1297,1015.2 1298,1015.4 1299,1015.3 1300,1015.1 1301,1014.9 1302,1014.5 1303,1014.1 1304,1013.7 1305,1013.3 1306,1012.9 1307,1012.7 1308,1012.6 1309,1012.8 1310,1012.9 1311,1013.0 1312,1013.0 1313,1012.9 1314,1012.7 1315,1012.5 1316,1012.5 1317,1012.5 1318,1012.5 1319,1012.1 1320,1011.4 1321,1010.2 1322,1008.6 1323,1006.5 1324,1004.2 1325,1001.4 1326,998.0 1327,993.9 1328,989.1 1329,983.6 1330,977.9 1331,972.0 1332,966.1 1333,960.5 1334,955.2 1335,950.4 1336,946.4 1337,943.2 1338,940.9 1339,939.7 1340,939.6 1341,940.7 1342,943.1 1343,946.6 1344,951.2 1345,956.4 1346,962.1 1347,967.9 1348,973.7 1349,979.2 1350,984.2 1351,988.6 1352,992.4 1353,995.5 1354,998.1 1355,1000.1 1356,1001.4 1357,1002.0 1358,1001.9 1359,1001.1 1360,999.7 1361,997.6 1362,995.0 1363,991.8 1364,988.1 1365,984.1 1366,980.0 1367,976.0 1368,972.5 1369,969.5 1370,967.3 1371,965.8 1372,965.1 1373,965.2 1374,966.1 1375,967.8 1376,970.2 1377,973.2 1378,976.6 1379,980.3 1380,984.2 1381,988.0 1382,991.8 1383,995.2 1384,998.2 1385,1000.7 1386,1002.8 1387,1004.6 1388,1006.2 1389,1007.7 1390,1009.0 1391,1010.1 1392,1010.9 1393,1011.4 1394,1011.7 1395,1011.8 1396,1011.8 1397,1011.8 1398,1011.9 1399,1012.1 1400,1012.4 1401,1012.7 1402,1013.0 1403,1013.2 1404,1013.3 1405,1013.3 1406,1013.3 1407,1013.3 1408,1013.3 1409,1013.4 1410,1013.5 1411,1013.6 1412,1013.6 1413,1013.7 1414,1013.8 1415,1014.0 1416,1014.2 1417,1014.6 1418,1014.8 1419,1014.9 1420,1014.8 1421,1014.5 1422,1014.0 1423,1013.3 1424,1012.8 1425,1012.5 1426,1012.4 1427,1012.6 1428,1013.0 1429,1013.3 1430,1013.4 1431,1013.4 1432,1013.4 1433,1013.4 1434,1013.6 1435,1013.9 1436,1014.4 1437,1014.8 1438,1015.0 1439,1015.0 1440,1014.7 1441,1014.3 1442,1013.9 1443,1013.7 1444,1013.7 1445,1014.0 1446,1014.3 1447,1014.6 1448,1014.7 1449,1014.6 1450,1014.4 1451,1014.0 1452,1013.6 1453,1013.2 1454,1012.9 1455,1012.8 1456,1012.7 1457,1012.8 1458,1012.9 1459,1013.1 1460,1013.2 1461,1013.4 1462,1013.5 1463,1013.5 1464,1013.4 1465,1013.2 1466,1012.8 1467,1012.5 1468,1012.4 1469,1012.3 1470,1012.1 1471,1011.8 1472,1011.1 1473,1010.0 1474,1008.3 1475,1006.2 1476,1003.6 1477,1000.7 1478,997.5 1479,993.9 1480,989.6 1481,984.6 1482,978.9 1483,972.8 1484,966.6 1485,960.8 1486,955.7 1487,951.3 1488,947.9 1489,945.7 1490,944.5 1491,944.3 1492,945.1 1493,947.0 1494,950.0 1495,954.2 1496,959.3 1497,964.9 1498,970.8 1499,976.4 1500,981.6 1501,986.3 1502,990.4 1503,994.1 1504,997.3 1505,999.7 1506,1001.4 1507,1002.2 1508,1002.2 1509,1001.6 1510,1000.4 1511,999.0 1512,997.5 1513,996.1 1514,995.0 1515,994.2 1516,994.0 1517,994.5 1518,995.6 1519,997.3 1520,999.3 1521,1001.4 1522,1003.4 1523,1005.1 1524,1006.4 1525,1007.5 1526,1008.5 1527,1009.3 1528,1010.1 1529,1010.8 1530,1011.5 1531,1012.1 1532,1012.6 1533,1012.9 1534,1013.0 1535,1013.2 1536,1013.3 1537,1013.5 1538,1013.7 1539,1013.8 1540,1013.7 1541,1013.5 1542,1013.3 1543,1013.2 1544,1013.1 1545,1013.1 1546,1013.0 1547,1013.0 1548,1012.9 1549,1012.9 1550,1013.1 1551,1013.3 1552,1013.5 1553,1013.7 1554,1013.7 1555,1013.7 1556,1013.7 1557,1013.7 1558,1013.5 1559,1013.2 1560,1012.8 1561,1012.4 1562,1012.0 1563,1011.9 1564,1011.9 1565,1012.2 1566,1012.5 1567,1013.0 1568,1013.4 1569,1013.8 1570,1014.0 1571,1013.9 1572,1013.7 1573,1013.4 1574,1013.1 1575,1012.9 1576,1012.9 1577,1013.1 1578,1013.4 1579,1013.7 1580,1014.1 1581,1014.3 1582,1014.5 1583,1014.4 1584,1014.2 1585,1013.9 1586,1013.7 1587,1013.5 1588,1013.5 1589,1013.3 1590,1013.1 1591,1012.9 1592,1012.7 1593,1012.8 1594,1013.2 1595,1013.8 1596,1014.4 1597,1014.8 1598,1015.1 1599,1015.0 1600,1014.7 1601,1014.2 1602,1013.7 1603,1013.3 1604,1013.0 1605,1012.8 1606,1012.7 1607,1012.7 1608,1012.9 1609,1013.1 1610,1013.5 1611,1013.9 1612,1014.2 1613,1014.3 1614,1014.3 1615,1014.1 1616,1013.9 1617,1013.7 1618,1013.7 1619,1013.7 1620,1013.8 1621,1013.9 1622,1013.8 1623,1013.7 1624,1013.5 1625,1013.3 1626,1013.1 1627,1013.0 1628,1013.0 1629,1013.0 1630,1013.2 1631,1013.3 1632,1013.4 1633,1013.4 1634,1013.4 1635,1013.4 1636,1013.4 1637,1013.3 1638,1013.3 1639,1013.3 1640,1013.2 1641,1013.1 1642,1012.9 1643,1012.8 1644,1012.6 1645,1012.5 1646,1012.5 1647,1012.5 1648,1012.6 1649,1012.7 1650,1012.8 1651,1012.8 1652,1012.7 1653,1012.3 1654,1011.8 1655,1011.3 1656,1010.9 1657,1010.5 1658,1010.0 1659,1009.3 1660,1008.2 1661,1006.8 1662,1005.1 1663,1003.3 1664,1001.4 1665,999.5 1666,997.4 1667,995.1 1668,992.6 1669,990.0 1670,987.4 1671,985.1 1672,983.2 1673,981.9 1674,981.1 1675,980.7 1676,980.5 1677,980.3 1678,980.2 1679,980.5 1680,981.2 1681,982.5 1682,984.2 1683,986.2 1684,988.5 1685,990.8 1686,993.3 1687,995.9 1688,998.5 1689,1001.0 1690,1003.2 1691,1005.2 1692,1006.8 1693,1008.1 1694,1009.0 1695,1009.8 1696,1010.4 1697,1011.1 1698,1011.7 1699,1012.4 1700,1013.0 1701,1013.4 1702,1013.7 1703,1013.9 1704,1014.1 1705,1014.1 1706,1014.2 1707,1014.2 1708,1014.1 1709,1013.8 1710,1013.4 1711,1013.0 1712,1012.7 1713,1012.7 1714,1012.9 1715,1013.3 1716,1013.8 1717,1014.3 1718,1014.6 1719,1014.8 1720,1014.9 1721,1015.0 1722,1015.0 1723,1015.1 1724,1015.2 1725,1015.4 1726,1015.5 1727,1015.6 1728,1015.4 1729,1015.0 1730,1014.6 1731,1014.1 1732,1013.7 1733,1013.5 1734,1013.4 1735,1013.3 1736,1013.4 1737,1013.4 1738,1013.4 1739,1013.4 1740,1013.4 1741,1013.5 1742,1013.5 1743,1013.4 1744,1013.3 1745,1013.1 1746,1012.9 1747,1012.9 1748,1013.0 1749,1013.1 1750,1013.2 1751,1013.2 1752,1013.2 1753,1013.0 1754,1012.9 1755,1012.8 1756,1012.9 1757,1012.9 1758,1013.1 1759,1013.2 1760,1013.4 1761,1013.4 1762,1013.5 1763,1013.4 1764,1013.4 1765,1013.3 1766,1013.3 1767,1013.4 1768,1013.5 1769,1013.6 1770,1013.7 1771,1013.7 1772,1013.6 1773,1013.6 1774,1013.6 1775,1013.6 1776,1013.6 1777,1013.7 1778,1014.0 1779,1014.3 1780,1014.7 1781,1015.0 1782,1015.2 1783,1015.3 1784,1015.2 1785,1014.9 1786,1014.6 1787,1014.2 1788,1013.9 1789,1013.6 1790,1013.3 1791,1013.2 1792,1013.2 1793,1013.3 1794,1013.4 1795,1013.5 1796,1013.6 1797,1013.7 1798,1013.9 1799,1014.1 1800,1014.2 1801,1014.3 1802,1014.2 1803,1014.0 1804,1013.6 1805,1013.3 1806,1013.1 1807,1013.0 1808,1013.0 1809,1013.2 1810,1013.3 1811,1013.4 1812,1013.5 1813,1013.6 1814,1013.8 1815,1014.0 1816,1014.1 1817,1014.0 1818,1013.8 1819,1013.4 1820,1012.9 1821,1012.5 1822,1012.2 1823,1012.1 1824,1012.1 1825,1012.3 1826,1012.5 1827,1012.7 1828,1012.9 1829,1013.0 1830,1012.9 1831,1012.7 1832,1012.3 1833,1011.9 1834,1011.5 1835,1011.1 1836,1010.6 1837,1010.0 1838,1009.1 1839,1007.9 1840,1006.5 1841,1005.3 1842,1004.5 1843,1004.4 1844,1005.0 1845,1006.0 1846,1007.4 1847,1008.7 1848,1010.0 1849,1011.1 1850,1012.0 1851,1012.7" fill="none" stroke="#ff0000" stroke-width="6.2" stroke-linejoin="round" stroke-linecap="round"/>
<polyline points="152,834.4 153,834.4 154,834.4 155,834.4 156,834.4 157,834.4 158,834.5 159,834.5 160,834.5 161,834.4 162,834.3 163,834.1 164,833.9 165,833.8 166,833.7 167,833.7 168,833.6 169,833.6 170,833.6 171,833.6 172,833.7 173,833.6 174,833.4 175,833.1 176,832.8 177,832.7 178,832.9 179,833.3 180,833.9 181,834.4 182,834.7 183,834.9 184,835.0 185,835.0 186,834.7 187,834.3 188,833.8 189,833.4 190,833.1 191,832.9 192,832.8 193,832.8 194,832.9 195,833.1 196,833.4 197,833.6 198,833.9 199,834.2 200,834.3 201,834.4 202,834.4 203,834.3 204,834.2 205,834.1 206,834.0 207,833.9 208,833.7 209,833.5 210,833.4 211,833.2 212,833.2 213,833.1 214,833.1 215,833.1 216,833.2 217,833.4 218,833.5 219,833.7 220,833.8 221,833.9 222,833.9 223,834.0 224,834.0 225,834.0 226,833.8 227,833.6 228,833.3 229,833.0 230,832.8 231,832.6 232,832.5 233,832.4 234,832.3 235,832.3 236,832.3 237,832.4 238,832.4 239,832.4 240,832.3 241,832.2 242,831.8 243,831.3 244,830.6 245,829.9 246,829.1 247,828.4 248,827.7 249,827.2 250,826.9 251,826.6 252,826.4 253,826.2 254,825.8 255,825.2 256,824.4 257,823.3 258,822.0 259,820.5 260,818.5 261,815.7 262,811.5 263,805.2 264,795.7 265,781.7 266,761.8 267,734.7 268,699.1 269,654.3 270,600.5 271,538.9 272,471.9 273,403.6 274,338.8 275,282.7 276,240.5 277,216.1 278,212.0 279,228.7 280,264.5 281,316.0 282,378.2 283,445.8 284,513.7 285,577.5 286,634.3 287,682.3 288,721.1 289,751.2 290,773.7 291,789.9 292,801.3 293,809.1 294,814.3 295,817.7 296,820.0 297,821.5 298,822.5 299,823.3 300,824.0 301,824.5 302,825.0 303,825.5 304,826.0 305,826.6 306,827.2 307,827.7 308,828.2 309,828.5 310,828.9 311,829.2 312,829.5 313,829.5 314,829.2 315,828.3 316,826.5 317,823.6 318,819.1 319,812.9 320,804.8 321,794.9 322,783.3 323,770.4 324,756.6 325,742.8 326,729.9 327,718.9 328,710.9 329,706.4 330,706.0 331,709.6 332,716.8 333,727.0 334,739.3 335,752.7 336,766.2 337,779.1 338,790.7 339,800.9 340,809.6 341,816.6 342,821.9 343,825.8 344,828.4 345,830.2 346,831.4 347,832.3 348,833.2 349,833.9 350,834.4 351,834.8 352,835.0 353,834.9 354,834.6 355,834.3 356,834.0 357,833.8 358,833.7 359,833.7 360,833.7 361,833.6 362,833.5 363,833.3 364,833.1 365,833.0 366,832.9 367,832.9 368,833.0 369,833.2 370,833.4 371,833.6 372,833.7 373,833.6 374,833.5 375,833.3 376,833.0 377,832.9 378,832.8 379,832.8 380,832.9 381,833.0 382,833.1 383,833.1 384,833.1 385,833.0 386,833.0 387,833.0 388,833.1 389,833.1 390,833.1 391,833.1 392,833.2 393,833.3 394,833.4 395,833.5 396,833.5 397,833.5 398,833.5 399,833.6 400,833.6 401,833.7 402,833.8 403,833.8 404,833.7 405,833.7 406,833.6 407,833.6 408,833.5 409,833.5 410,833.4 411,833.2 412,833.0 413,832.8 414,832.6 415,832.5 416,832.6 417,832.8 418,833.1 419,833.3 420,833.4 421,833.4 422,833.5 423,833.6 424,833.7 425,833.9 426,833.9 427,833.9 428,833.9 429,833.8 430,833.8 431,833.8 432,833.9 433,833.9 434,833.8 435,833.8 436,833.6 437,833.5 438,833.3 439,833.1 440,833.1 441,833.3 442,833.6 443,834.0 444,834.3 445,834.5 446,834.6 447,834.7 448,834.7 449,834.6 450,834.5 451,834.2 452,833.9 453,833.7 454,833.6 455,833.7 456,834.0 457,834.3 458,834.6 459,834.8 460,834.9 461,834.8 462,834.6 463,834.2 464,833.8 465,833.4 466,833.1 467,832.9 468,832.8 469,832.9 470,833.0 471,833.1 472,833.1 473,833.0 474,832.9 475,832.7 476,832.7 477,832.8 478,833.0 479,833.4 480,833.9 481,834.2 482,834.4 483,834.5 484,834.4 485,834.3 486,834.3 487,834.2 488,834.1 489,833.8 490,833.5 491,833.3 492,833.1 493,833.1 494,833.2 495,833.4 496,833.5 497,833.7 498,833.7 499,833.7 500,833.7 501,833.7 502,833.8 503,834.0 504,834.2 505,834.3 506,834.4 507,834.4 508,834.4 509,834.3 510,834.3 511,834.3 512,834.4 513,834.4 514,834.5 515,834.5 516,834.6 517,834.6 518,834.7 519,834.7 520,834.7 521,834.6 522,834.3 523,833.9 524,833.4 525,832.7 526,831.9 527,830.8 528,829.3 529,827.1 530,823.9 531,819.7 532,814.3 533,807.9 534,800.8 535,793.5 536,786.6 537,780.8 538,776.9 539,775.1 540,775.7 541,778.5 542,783.1 543,789.1 544,795.7 545,802.5 546,808.9 547,814.4 548,818.9 549,822.1 550,823.9 551,824.5 552,823.8 553,822.0 554,819.4 555,816.0 556,812.1 557,807.9 558,803.9 559,800.2 560,797.4 561,795.7 562,795.4 563,796.6 564,799.1 565,802.3 566,805.8 567,808.9 568,810.9 569,811.5 570,810.2 571,806.8 572,801.2 573,793.5 574,783.8 575,772.5 576,760.0 577,746.9 578,734.2 579,722.6 580,713.1 581,706.3 582,702.6 583,702.4 584,705.7 585,712.0 586,721.0 587,731.9 588,743.9 589,756.1 590,767.6 591,778.0 592,786.7 593,793.2 594,797.4 595,799.4 596,799.3 597,797.7 598,795.5 599,793.2 600,791.4 601,790.6 602,790.9 603,792.3 604,795.0 605,798.6 606,803.0 607,807.6 608,812.0 609,815.7 610,818.5 611,820.3 612,821.3 613,821.4 614,821.1 615,820.7 616,820.3 617,820.2 618,820.5 619,821.3 620,822.3 621,823.6 622,825.0 623,826.5 624,827.9 625,829.3 626,830.6 627,831.7 628,832.6 629,833.3 630,833.7 631,834.1 632,834.6 633,835.0 634,835.5 635,835.8 636,836.0 637,835.9 638,835.5 639,835.1 640,834.6 641,834.2 642,834.0 643,834.0 644,834.1 645,834.1 646,834.0 647,833.7 648,833.5 649,833.3 650,833.2 651,833.2 652,833.2 653,833.1 654,832.9 655,832.6 656,832.1 657,831.2 658,829.8 659,827.6 660,824.4 661,820.4 662,816.0 663,811.8 664,808.6 665,806.8 666,806.9 667,808.9 668,812.3 669,816.5 670,820.9 671,824.9 672,828.2 673,830.8 674,832.6 675,833.8 676,834.3 677,834.3 678,834.0 679,833.4 680,832.8 681,832.4 682,832.3 683,832.5 684,832.9 685,833.5 686,834.0 687,834.6 688,835.1 689,835.5 690,835.7 691,835.6 692,835.4 693,835.2 694,834.9 695,834.8 696,834.7 697,834.5 698,834.4 699,834.2 700,833.9 701,833.6 702,833.4 703,833.3 704,833.4 705,833.8 706,834.2 707,834.6 708,834.8 709,834.8 710,834.8 711,834.8 712,834.8 713,834.9 714,834.9 715,834.9 716,834.8 717,834.8 718,834.7 719,834.6 720,834.6 721,834.7 722,834.7 723,834.7 724,834.3 725,833.6 726,832.6 727,831.6 728,830.6 729,829.8 730,829.2 731,828.7 732,828.2 733,827.7 734,827.5 735,827.4 736,827.5 737,827.9 738,828.3 739,828.8 740,829.3 741,829.9 742,830.4 743,830.8 744,831.2 745,831.6 746,832.1 747,832.5 748,833.0 749,833.4 750,833.7 751,834.0 752,834.3 753,834.8 754,835.1 755,835.4 756,835.3 757,835.0 758,834.6 759,834.2 760,833.9 761,833.7 762,833.6 763,833.5 764,833.6 765,833.7 766,834.0 767,834.4 768,834.8 769,835.1 770,835.4 771,835.4 772,835.3 773,835.0 774,834.6 775,834.5 776,834.5 777,834.9 778,835.3 779,835.6 780,835.6 781,835.3 782,834.9 783,834.4 784,834.0 785,833.7 786,833.5 787,833.6 788,833.7 789,833.9 790,834.2 791,834.4 792,834.5 793,834.4 794,834.0 795,833.5 796,832.9 797,832.4 798,832.1 799,832.2 800,832.5 801,832.7 802,832.9 803,832.9 804,832.7 805,832.5 806,832.4 807,832.2 808,832.1 809,831.8 810,831.3 811,830.7 812,829.8 813,828.5 814,826.9 815,824.6 816,821.5 817,817.2 818,811.2 819,803.3 820,793.0 821,780.6 822,766.1 823,749.9 824,732.6 825,714.6 826,696.8 827,679.8 828,664.6 829,652.1 830,643.2 831,638.6 832,638.5 833,643.1 834,651.9 835,664.4 836,679.5 837,696.4 838,714.1 839,731.8 840,748.9 841,764.9 842,779.3 843,791.9 844,802.5 845,810.8 846,817.1 847,821.6 848,824.7 849,826.7 850,828.1 851,829.0 852,829.5 853,829.9 854,830.2 855,830.6 856,831.1 857,831.6 858,832.2 859,832.7 860,833.3 861,833.9 862,834.4 863,834.8 864,834.9 865,834.7 866,834.4 867,834.2 868,834.1 869,834.3 870,834.6 871,834.9 872,835.1 873,835.1 874,834.8 875,834.3 876,833.9 877,833.7 878,833.7 879,834.0 880,834.3 881,834.6 882,834.7 883,834.5 884,834.2 885,833.8 886,833.5 887,833.3 888,833.2 889,833.0 890,832.8 891,832.7 892,832.7 893,832.9 894,833.2 895,833.5 896,833.9 897,834.1 898,834.0 899,833.8 900,833.6 901,833.5 902,833.5 903,833.6 904,833.7 905,833.7 906,833.5 907,833.3 908,833.1 909,832.9 910,832.9 911,832.8 912,832.8 913,832.8 914,832.9 915,833.0 916,833.2 917,833.3 918,833.4 919,833.3 920,833.1 921,832.9 922,832.6 923,832.3 924,831.8 925,831.3 926,830.9 927,830.5 928,830.2 929,830.2 930,830.4 931,830.8 932,831.3 933,831.6 934,831.8 935,831.7 936,831.5 937,831.3 938,831.3 939,831.4 940,831.5 941,831.6 942,831.7 943,831.7 944,831.6 945,831.5 946,831.1 947,830.6 948,830.1 949,829.6 950,829.2 951,828.8 952,828.4 953,828.0 954,827.8 955,827.7 956,827.7 957,827.5 958,826.9 959,825.7 960,823.7 961,820.4 962,815.8 963,809.4 964,801.2 965,791.1 966,779.3 967,766.1 968,752.2 969,738.6 970,726.0 971,715.2 972,706.5 973,700.2 974,695.9 975,692.9 976,690.8 977,689.0 978,687.2 979,685.4 980,684.3 981,684.4 982,686.5 983,691.1 984,698.5 985,708.2 986,719.6 987,731.8 988,743.7 989,754.3 990,762.8 991,768.6 992,771.4 993,771.0 994,767.7 995,761.9 996,754.1 997,745.1 998,735.6 999,726.8 1000,719.3 1001,714.0 1002,711.4 1003,711.6 1004,714.4 1005,719.6 1006,727.0 1007,736.1 1008,746.4 1009,757.3 1010,768.4 1011,778.9 1012,788.5 1013,796.9 1014,804.1 1015,810.1 1016,815.1 1017,819.1 1018,822.3 1019,824.6 1020,826.3 1021,827.2 1022,827.5 1023,827.4 1024,827.0 1025,826.6 1026,826.0 1027,825.2 1028,824.1 1029,822.6 1030,820.8 1031,818.6 1032,816.3 1033,814.1 1034,812.1 1035,810.7 1036,809.9 1037,809.6 1038,810.0 1039,810.9 1040,812.2 1041,814.0 1042,816.1 1043,818.4 1044,820.8 1045,823.1 1046,825.2 1047,826.8 1048,828.1 1049,829.0 1050,829.7 1051,830.4 1052,831.0 1053,831.6 1054,832.0 1055,832.3 1056,832.3 1057,832.3 1058,832.2 1059,832.3 1060,832.5 1061,832.8 1062,833.0 1063,833.1 1064,833.1 1065,833.0 1066,832.9 1067,832.9 1068,832.9 1069,833.0 1070,833.2 1071,833.4 1072,833.6 1073,833.7 1074,833.9 1075,834.1 1076,834.3 1077,834.5 1078,834.5 1079,834.4 1080,834.2 1081,833.8 1082,833.4 1083,833.1 1084,832.8 1085,832.6 1086,832.6 1087,832.7 1088,833.0 1089,833.2 1090,833.3 1091,833.4 1092,833.5 1093,833.6 1094,833.8 1095,834.2 1096,834.5 1097,834.8 1098,834.9 1099,834.7 1100,834.3 1101,833.8 1102,833.5 1103,833.4 1104,833.6 1105,834.0 1106,834.4 1107,834.7 1108,834.9 1109,834.8 1110,834.6 1111,834.3 1112,834.0 1113,833.8 1114,833.7 1115,833.5 1116,833.4 1117,833.2 1118,833.1 1119,832.9 1120,832.9 1121,832.8 1122,832.9 1123,833.1 1124,833.4 1125,833.9 1126,834.4 1127,834.8 1128,835.0 1129,835.0 1130,834.7 1131,834.4 1132,834.2 1133,834.2 1134,834.4 1135,834.6 1136,834.7 1137,834.7 1138,834.6 1139,834.6 1140,834.7 1141,834.8 1142,834.8 1143,834.5 1144,834.1 1145,833.5 1146,833.0 1147,832.7 1148,832.6 1149,832.8 1150,833.0 1151,833.3 1152,833.4 1153,833.2 1154,832.8 1155,832.1 1156,831.4 1157,830.7 1158,829.9 1159,829.0 1160,827.8 1161,826.3 1162,824.4 1163,822.1 1164,819.7 1165,817.2 1166,814.8 1167,812.6 1168,810.7 1169,808.8 1170,807.0 1171,805.1 1172,803.2 1173,801.0 1174,798.7 1175,796.2 1176,793.5 1177,790.6 1178,787.3 1179,783.5 1180,778.9 1181,773.7 1182,767.8 1183,761.6 1184,755.2 1185,749.1 1186,743.4 1187,738.5 1188,734.8 1189,732.6 1190,732.3 1191,733.8 1192,737.4 1193,742.9 1194,750.0 1195,758.3 1196,767.5 1197,776.8 1198,785.7 1199,794.0 1200,801.3 1201,807.7 1202,813.2 1203,817.8 1204,821.7 1205,824.8 1206,827.1 1207,828.9 1208,830.1 1209,830.8 1210,831.1 1211,830.9 1212,830.5 1213,829.9 1214,829.2 1215,828.6 1216,828.0 1217,827.3 1218,826.6 1219,826.0 1220,825.6 1221,825.6 1222,825.9 1223,826.6 1224,827.4 1225,828.4 1226,829.5 1227,830.6 1228,831.6 1229,832.3 1230,832.9 1231,833.2 1232,833.3 1233,833.4 1234,833.6 1235,833.9 1236,834.1 1237,834.3 1238,834.4 1239,834.3 1240,834.1 1241,833.9 1242,833.6 1243,833.4 1244,833.3 1245,833.1 1246,833.1 1247,833.2 1248,833.3 1249,833.5 1250,833.7 1251,833.9 1252,834.0 1253,834.2 1254,834.4 1255,834.6 1256,834.6 1257,834.6 1258,834.7 1259,834.8 1260,834.9 1261,835.2 1262,835.3 1263,835.3 1264,835.2 1265,834.9 1266,834.7 1267,834.5 1268,834.4 1269,834.5 1270,834.5 1271,834.6 1272,834.6 1273,834.5 1274,834.5 1275,834.4 1276,834.4 1277,834.3 1278,834.3 1279,834.1 1280,834.0 1281,834.0 1282,834.0 1283,834.2 1284,834.5 1285,834.7 1286,834.8 1287,834.8 1288,834.5 1289,834.2 1290,833.9 1291,833.7 1292,833.7 1293,833.8 1294,834.0 1295,834.2 1296,834.4 1297,834.5 1298,834.6 1299,834.6 1300,834.5 1301,834.2 1302,833.8 1303,833.4 1304,833.2 1305,833.0 1306,832.9 1307,832.8 1308,832.7 1309,832.4 1310,832.3 1311,832.3 1312,832.5 1313,832.9 1314,833.4 1315,833.8 1316,834.1 1317,834.1 1318,833.7 1319,832.9 1320,831.7 1321,830.3 1322,828.6 1323,826.7 1324,824.6 1325,822.1 1326,819.3 1327,816.1 1328,812.4 1329,808.3 1330,804.0 1331,799.4 1332,794.6 1333,789.8 1334,785.4 1335,781.8 1336,779.0 1337,777.3 1338,776.5 1339,776.7 1340,777.7 1341,779.7 1342,782.6 1343,786.2 1344,790.4 1345,794.9 1346,799.2 1347,803.4 1348,807.2 1349,810.9 1350,814.2 1351,817.1 1352,819.5 1353,821.3 1354,822.4 1355,823.0 1356,823.0 1357,822.6 1358,821.6 1359,820.2 1360,818.2 1361,815.9 1362,813.2 1363,810.5 1364,807.7 1365,805.0 1366,802.5 1367,800.3 1368,798.6 1369,797.3 1370,796.5 1371,796.4 1372,796.9 1373,798.0 1374,799.6 1375,801.7 1376,804.1 1377,806.8 1378,809.8 1379,813.0 1380,816.1 1381,818.9 1382,821.3 1383,823.2 1384,824.8 1385,826.2 1386,827.7 1387,829.0 1388,830.3 1389,831.2 1390,832.0 1391,832.5 1392,832.8 1393,833.1 1394,833.4 1395,833.5 1396,833.5 1397,833.3 1398,833.1 1399,832.8 1400,832.8 1401,832.9 1402,833.3 1403,833.8 1404,834.4 1405,835.0 1406,835.5 1407,836.0 1408,836.3 1409,836.5 1410,836.4 1411,836.0 1412,835.4 1413,834.8 1414,834.3 1415,834.0 1416,834.0 1417,834.2 1418,834.3 1419,834.5 1420,834.6 1421,834.6 1422,834.6 1423,834.6 1424,834.7 1425,834.8 1426,834.8 1427,834.9 1428,834.9 1429,834.9 1430,834.8 1431,834.5 1432,834.1 1433,833.6 1434,833.1 1435,832.8 1436,832.8 1437,833.0 1438,833.4 1439,833.8 1440,834.1 1441,834.4 1442,834.5 1443,834.7 1444,834.8 1445,834.9 1446,834.9 1447,835.1 1448,835.2 1449,835.4 1450,835.4 1451,835.3 1452,835.1 1453,834.9 1454,834.8 1455,834.7 1456,834.6 1457,834.5 1458,834.4 1459,834.4 1460,834.6 1461,834.8 1462,835.1 1463,835.4 1464,835.4 1465,835.3 1466,835.0 1467,834.6 1468,834.0 1469,833.3 1470,832.4 1471,831.3 1472,829.9 1473,828.3 1474,826.4 1475,824.2 1476,821.7 1477,819.0 1478,815.7 1479,811.9 1480,807.5 1481,802.5 1482,797.1 1483,791.6 1484,786.1 1485,781.3 1486,777.4 1487,774.6 1488,773.2 1489,772.9 1490,773.7 1491,775.2 1492,777.5 1493,780.5 1494,784.1 1495,788.2 1496,792.7 1497,797.4 1498,802.1 1499,806.5 1500,810.5 1501,814.0 1502,816.9 1503,819.2 1504,821.0 1505,822.1 1506,822.6 1507,822.6 1508,822.1 1509,821.4 1510,820.5 1511,819.7 1512,818.9 1513,818.2 1514,817.7 1515,817.5 1516,817.8 1517,818.6 1518,819.9 1519,821.5 1520,823.3 1521,825.1 1522,826.9 1523,828.5 1524,829.8 1525,830.9 1526,831.7 1527,832.2 1528,832.3 1529,832.3 1530,832.3 1531,832.4 1532,832.6 1533,832.9 1534,833.2 1535,833.4 1536,833.7 1537,834.0 1538,834.1 1539,834.1 1540,833.8 1541,833.3 1542,832.7 1543,832.2 1544,832.0 1545,832.0 1546,832.1 1547,832.5 1548,833.0 1549,833.5 1550,834.0 1551,834.5 1552,834.7 1553,834.8 1554,834.6 1555,834.4 1556,834.2 1557,834.1 1558,834.1 1559,834.2 1560,834.2 1561,834.1 1562,833.9 1563,833.8 1564,833.7 1565,833.7 1566,833.8 1567,834.0 1568,834.1 1569,834.2 1570,834.2 1571,834.0 1572,833.9 1573,833.8 1574,833.9 1575,834.1 1576,834.5 1577,834.8 1578,835.0 1579,834.9 1580,834.6 1581,834.1 1582,833.5 1583,833.0 1584,832.7 1585,832.5 1586,832.3 1587,832.1 1588,831.9 1589,831.8 1590,831.8 1591,832.1 1592,832.4 1593,832.9 1594,833.3 1595,833.5 1596,833.7 1597,833.7 1598,833.7 1599,833.7 1600,833.7 1601,833.6 1602,833.5 1603,833.4 1604,833.3 1605,833.5 1606,833.9 1607,834.3 1608,834.8 1609,835.1 1610,835.1 1611,834.9 1612,834.5 1613,834.1 1614,833.7 1615,833.5 1616,833.4 1617,833.5 1618,833.7 1619,834.0 1620,834.2 1621,834.3 1622,834.2 1623,833.9 1624,833.4 1625,833.0 1626,832.6 1627,832.4 1628,832.3 1629,832.3 1630,832.4 1631,832.6 1632,832.9 1633,833.2 1634,833.6 1635,833.9 1636,834.0 1637,834.1 1638,833.9 1639,833.7 1640,833.3 1641,833.0 1642,832.7 1643,832.5 1644,832.3 1645,832.2 1646,832.1 1647,832.2 1648,832.4 1649,832.9 1650,833.4 1651,834.1 1652,834.6 1653,834.9 1654,834.8 1655,834.1 1656,833.1 1657,831.8 1658,830.5 1659,829.3 1660,828.0 1661,826.5 1662,824.8 1663,822.9 1664,820.9 1665,818.8 1666,816.7 1667,814.8 1668,812.9 1669,811.1 1670,809.4 1671,807.7 1672,806.2 1673,804.9 1674,804.0 1675,803.5 1676,803.4 1677,803.7 1678,804.4 1679,805.4 1680,806.9 1681,808.8 1682,811.0 1683,813.4 1684,816.0 1685,818.4 1686,820.7 1687,822.7 1688,824.4 1689,826.0 1690,827.5 1691,828.8 1692,829.9 1693,830.8 1694,831.4 1695,831.9 1696,832.3 1697,832.6 1698,832.9 1699,833.1 1700,833.4 1701,833.7 1702,834.2 1703,834.6 1704,835.0 1705,835.3 1706,835.4 1707,835.5 1708,835.4 1709,835.4 1710,835.2 1711,835.1 1712,834.8 1713,834.6 1714,834.5 1715,834.4 1716,834.2 1717,834.0 1718,833.6 1719,833.2 1720,832.9 1721,832.8 1722,832.8 1723,833.1 1724,833.4 1725,833.6 1726,833.7 1727,833.6 1728,833.3 1729,833.0 1730,832.8 1731,832.9 1732,833.2 1733,833.7 1734,834.1 1735,834.3 1736,834.4 1737,834.4 1738,834.2 1739,834.0 1740,833.7 1741,833.5 1742,833.3 1743,833.3 1744,833.4 1745,833.6 1746,834.0 1747,834.3 1748,834.5 1749,834.6 1750,834.5 1751,834.3 1752,834.1 1753,833.8 1754,833.5 1755,833.2 1756,832.9 1757,832.7 1758,832.7 1759,832.9 1760,833.1 1761,833.2 1762,833.1 1763,833.0 1764,832.7 1765,832.6 1766,832.8 1767,833.1 1768,833.6 1769,834.1 1770,834.4 1771,834.4 1772,834.4 1773,834.4 1774,834.4 1775,834.6 1776,834.8 1777,835.0 1778,835.1 1779,835.1 1780,835.0 1781,835.0 1782,834.9 1783,834.8 1784,834.7 1785,834.5 1786,834.3 1787,833.9 1788,833.5 1789,833.1 1790,832.7 1791,832.5 1792,832.5 1793,832.8 1794,833.2 1795,833.6 1796,834.0 1797,834.4 1798,834.9 1799,835.3 1800,835.6 1801,835.7 1802,835.3 1803,834.6 1804,833.8 1805,833.0 1806,832.5 1807,832.4 1808,832.8 1809,833.3 1810,833.8 1811,834.1 1812,834.2 1813,834.1 1814,834.0 1815,833.9 1816,833.8 1817,833.6 1818,833.4 1819,833.1 1820,833.0 1821,833.1 1822,833.5 1823,834.0 1824,834.5 1825,834.7 1826,834.8 1827,834.6 1828,834.4 1829,834.3 1830,834.3 1831,834.6 1832,834.9 1833,835.2 1834,835.2 1835,834.9 1836,834.2 1837,833.2 1838,831.8 1839,830.2 1840,828.4 1841,826.8 1842,825.6 1843,825.0 1844,824.9 1845,825.3 1846,826.1 1847,827.0 1848,828.1 1849,829.3 1850,830.5 1851,831.6" fill="none" stroke="#0000ff" stroke-width="6.2" stroke-linejoin="round" stroke-linecap="round"/>
<path d="M149,27 H1854 V1286 H149 Z" fill="none" stroke="#000" stroke-width="9.5" stroke-linejoin="round"/>
<line x1="148.8" y1="1286" x2="148.8" y2="1312" stroke="#000" stroke-width="9" stroke-linecap="round"/>
<line x1="635.9" y1="1286" x2="635.9" y2="1312" stroke="#000" stroke-width="9" stroke-linecap="round"/>
<line x1="1123.1" y1="1286" x2="1123.1" y2="1312" stroke="#000" stroke-width="9" stroke-linecap="round"/>
<line x1="1610.2" y1="1286" x2="1610.2" y2="1312" stroke="#000" stroke-width="9" stroke-linecap="round"/>
<line x1="392.4" y1="1286" x2="392.4" y2="1300" stroke="#000" stroke-width="9" stroke-linecap="round"/>
<line x1="879.5" y1="1286" x2="879.5" y2="1300" stroke="#000" stroke-width="9" stroke-linecap="round"/>
<line x1="1366.6" y1="1286" x2="1366.6" y2="1300" stroke="#000" stroke-width="9" stroke-linecap="round"/>
<line x1="1853.8" y1="1286" x2="1853.8" y2="1300" stroke="#000" stroke-width="9" stroke-linecap="round"/>
<text x="148.2" y="1382.6" font-size="69.5" text-anchor="middle" class="ar">20</text>
<text x="634.9" y="1382.6" font-size="69.5" text-anchor="middle" class="ar">40</text>
<text x="1122.0" y="1382.6" font-size="69.5" text-anchor="middle" class="ar">60</text>
<text x="1608.9" y="1382.6" font-size="69.5" text-anchor="middle" class="ar">80</text>
<text x="844.9" y="1498.2" font-size="66.8" textLength="327.6" lengthAdjust="spacingAndGlyphs" class="ar">2 Theta (°)</text>
<text transform="translate(79.9,923.9) rotate(-90)" font-size="70.4" textLength="461.5" lengthAdjust="spacingAndGlyphs" class="ar">Intensity (a.u.)</text>
<path d="M330.2,525.2 V474.5 Q330.2,473.5 331.2,473.5 H337.4 Q338.4,473.5 338.4,474.5 V525.2 Z" fill="#000"/><polygon points="322.5,524.2 346.1,524.2 334.3,546.5" fill="#000" stroke="#000" stroke-width="1" stroke-linejoin="round"/>
<path d="M537.0,612.5 V561.2 Q537.0,560.2 538.0,560.2 H544.2 Q545.2,560.2 545.2,561.2 V612.5 Z" fill="#000"/><polygon points="529.3,611.5 552.9,611.5 541.1,633.8" fill="#000" stroke="#000" stroke-width="1" stroke-linejoin="round"/>
<path d="M612.1,624.5 V574.2 Q612.1,573.2 613.1,573.2 H619.3 Q620.3,573.2 620.3,574.2 V624.5 Z" fill="#000"/><polygon points="604.4,623.5 628.0,623.5 616.2,645.8" fill="#000" stroke="#000" stroke-width="1" stroke-linejoin="round"/>
<path d="M661.8,678.5 V627.8 Q661.8,626.8 662.8,626.8 H669.0 Q670.0,626.8 670.0,627.8 V678.5 Z" fill="#000"/><polygon points="654.1,677.5 677.7,677.5 665.9,699.8" fill="#000" stroke="#000" stroke-width="1" stroke-linejoin="round"/>
<path d="M738.4,688.7 V638.7 Q738.4,637.7 739.4,637.7 H745.6 Q746.6,637.7 746.6,638.7 V688.7 Z" fill="#000"/><polygon points="730.7,687.7 754.3,687.7 742.5,710.0" fill="#000" stroke="#000" stroke-width="1" stroke-linejoin="round"/>
<path d="M1049.0,661.3 V609.4 Q1049.0,608.4 1050.0,608.4 H1056.2 Q1057.2,608.4 1057.2,609.4 V661.3 Z" fill="#000"/><polygon points="1041.3,660.3 1064.9,660.3 1053.1,682.6" fill="#000" stroke="#000" stroke-width="1" stroke-linejoin="round"/>
<path d="M1232.9,689.5 V638.0 Q1232.9,637.0 1233.9,637.0 H1240.1 Q1241.1,637.0 1241.1,638.0 V689.5 Z" fill="#000"/><polygon points="1225.2,688.5 1248.8,688.5 1237.0,710.8" fill="#000" stroke="#000" stroke-width="1" stroke-linejoin="round"/>
<path d="M1348.8,660.3 V608.7 Q1348.8,607.7 1349.8,607.7 H1356.0 Q1357.0,607.7 1357.0,608.7 V660.3 Z" fill="#000"/><polygon points="1341.1,659.3 1364.7,659.3 1352.9,681.6" fill="#000" stroke="#000" stroke-width="1" stroke-linejoin="round"/>
<path d="M1525.5,660.2 V609.8 Q1525.5,608.8 1526.5,608.8 H1532.7 Q1533.7,608.8 1533.7,609.8 V660.2 Z" fill="#000"/><polygon points="1517.8,659.2 1541.4,659.2 1529.6,681.5" fill="#000" stroke="#000" stroke-width="1" stroke-linejoin="round"/>
<path d="M1684.8,684.0 V632.1 Q1684.8,631.1 1685.8,631.1 H1692.0 Q1693.0,631.1 1693.0,632.1 V684.0 Z" fill="#000"/><polygon points="1677.1,683.0 1700.7,683.0 1688.9,705.3" fill="#000" stroke="#000" stroke-width="1" stroke-linejoin="round"/>
<text x="268.5" y="141.1" font-size="49" class="dv">*</text>
<text x="579.0" y="562.5" font-size="49" class="dv">*</text>
<text x="557.0" y="634.4" font-size="49" class="dv">*</text>
<text x="825.2" y="535.3" font-size="49" class="dv">*</text>
<text x="970.4" y="570.5" font-size="49" class="dv">*</text>
<text x="1008.6" y="601.1" font-size="49" class="dv">*</text>
<text x="1182.0" y="580.0" font-size="49" class="dv">*</text>
<text x="1375.5" y="649.2" font-size="49" class="dv">*</text>
<text x="1486.4" y="613.7" font-size="49" class="dv">*</text>
<line x1="1253" y1="100.4" x2="1330" y2="100.4" stroke="#000" stroke-width="8" stroke-linecap="round"/>
<polygon points="1328,89 1351.7,100.4 1328,112" fill="#000" stroke="#000" stroke-width="1.5" stroke-linejoin="round"/>
<text x="1393" y="120.6" font-size="58.6" textLength="130" lengthAdjust="spacingAndGlyphs" class="cb">rutile</text>
<text x="1578.7" y="115.9" font-size="49" class="dv">*</text>
<text x="1619.6" y="120.3" font-size="57.5" textLength="189.2" lengthAdjust="spacingAndGlyphs" class="cb">anatase</text>
<text x="1624.7" y="761.9" font-size="54.8" textLength="189.7" lengthAdjust="spacingAndGlyphs" class="ar b">Cu/TiO</text>
<text x="1813.1" y="786.7" font-size="35" class="ar b">2</text>
<text x="1638.9" y="942.9" font-size="54.8" textLength="185.8" lengthAdjust="spacingAndGlyphs" class="ar b">Pd/TiO</text>
<text x="1823.1" y="968.3" font-size="35" class="ar b">2</text>
<text x="1708.7" y="1135.7" font-size="54.8" textLength="93.4" lengthAdjust="spacingAndGlyphs" class="ar b">TiO</text>
<text x="1802.4" y="1159.7" font-size="35" class="ar b">2</text>
</g>
</svg></div>
</body></html>
